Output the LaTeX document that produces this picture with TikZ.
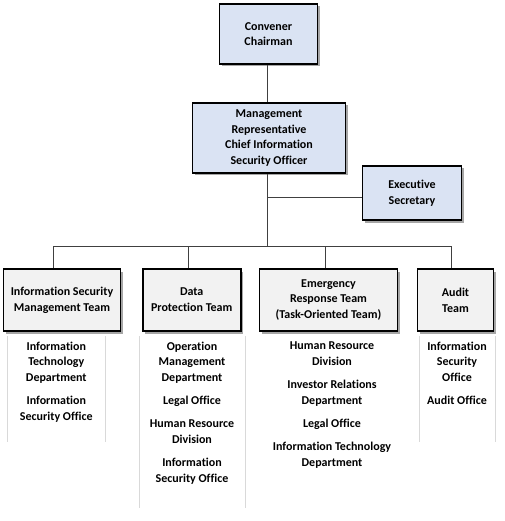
\documentclass[tikz,border=0pt]{standalone}
\usepackage{fontspec}
\setmainfont{Carlito}[Ligatures={NoCommon,NoContextual}]
\usetikzlibrary{shadows}
\definecolor{boxblue}{HTML}{DAE3F3}
\definecolor{boxgray}{HTML}{F2F2F2}
\definecolor{colline}{HTML}{D9D9D9}
\definecolor{conn}{HTML}{404040}
\tikzset{
  orgbox/.style={draw=black, line width=1.8pt, align=center, inner sep=0pt,
    font=\fontsize{12}{15.7}\selectfont\bfseries,
    drop shadow={shadow xshift=2.5pt, shadow yshift=-2.5pt, fill=black, opacity=0.35}},
  topbox/.style={orgbox, fill=boxblue},
  teambox/.style={orgbox, fill=boxgray},
  members/.style={align=center, inner sep=0pt, anchor=north,
    font=\fontsize{12}{15.7}\selectfont\bfseries},
  link/.style={draw=conn, line width=0.9pt},
  colrule/.style={draw=colline, line width=0.8pt}
}
\begin{document}
\begin{tikzpicture}[x=1pt,y=-1pt]
\useasboundingbox (0,0) rectangle (504,521);
% top boxes
\node[topbox, minimum width=98pt, minimum height=60pt] (conv) at (268.5,34) {Convener\\Chairman};
\node[topbox, minimum width=153pt, minimum height=70pt] (mgmt) at (269,138) {\raisebox{-2pt}{\begin{tabular}{@{}c@{}}Management\\Representative\\Chief Information\\Security Officer\end{tabular}}};
\node[topbox, minimum width=99pt, minimum height=54pt] (exec) at (412,193) {Executive\\Secretary};
% teams
\node[teambox, minimum width=117pt, minimum height=62pt] (ismt) at (62,300) {Information Security\\Management Team};
\node[teambox, minimum width=98pt, minimum height=62pt] (dpt) at (191.7,300) {Data\\Protection Team};
\node[teambox, minimum width=138pt, minimum height=62pt] (ert) at (328.5,300) {Emergency\\Response Team\\(Task-Oriented Team)};
\node[teambox, minimum width=76pt, minimum height=62pt] (audit) at (455.5,300) {Audit\\Team};
% coordinates
\coordinate (br) at (267,197);
\coordinate (bus) at (267,246);
% connectors
\draw[link] (conv.south -| br) -- (mgmt.north -| br);
\draw[link] (mgmt.south -| br) -- (bus);
\draw[link] (br) -- (exec.west |- br);
\draw[link] ([xshift=-9pt]ismt.north) |- (bus);
\draw[link] ([xshift=-3.7pt]dpt.north) |- (bus);
\draw[link] ([xshift=-3.5pt]ert.north) |- (bus);
\draw[link] ([xshift=-3.8pt]audit.north) |- (bus);
% member columns
\draw[colrule] (7.7,336) -- (7.7,442) (105,336) -- (105,442);
\draw[colrule] (139,336) -- (139,508) (245,336) -- (245,508);
\draw[colrule] (419,336) -- (419,442) (495,336) -- (495,442);
\node[members] (ismtm) at (56.3,341.5) {Information\\Technology\\Department\\[7.5pt]Information\\Security Office};
\node[members] (dptm) at (192,341.5) {Operation\\Management\\Department\\[7.5pt]Legal Office\\[7.5pt]Human Resource\\Division\\[7.5pt]Information\\Security Office};
\node[members] (ertm) at (332,341.5) {Human Resource\\Division\\[7.5pt]Investor Relations\\Department\\[7.5pt]Legal Office\\[7.5pt]Information Technology\\Department};
\node[members] (auditm) at (457,341.5) {Information\\Security\\Office\\[7.5pt]Audit Office};
\end{tikzpicture}
\end{document}
